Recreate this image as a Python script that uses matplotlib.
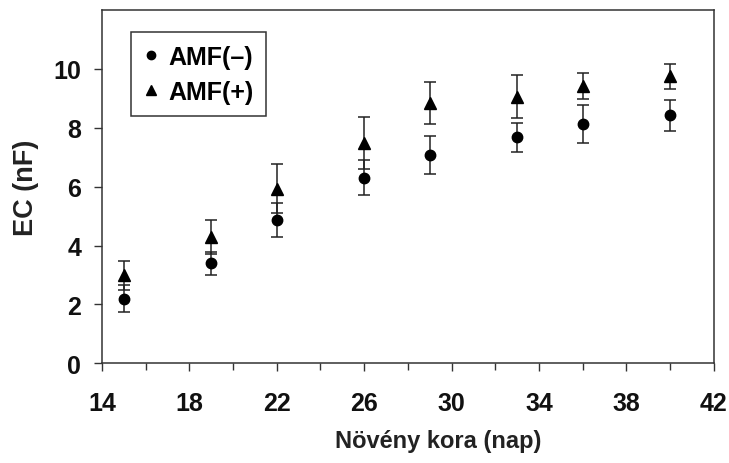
import matplotlib
matplotlib.use("Agg")
import matplotlib.pyplot as plt
from matplotlib.lines import Line2D
import numpy as np

# Növény kora (nap)
days = [15, 19, 22, 26, 29, 33, 36, 40]

# EC (nF) - AMF(-)
ec_minus = [2.20, 3.39, 4.86, 6.30, 7.07, 7.68, 8.12, 8.43]
err_minus = [0.45, 0.40, 0.57, 0.59, 0.65, 0.50, 0.64, 0.53]

# EC (nF) - AMF(+)
ec_plus = [2.99, 4.29, 5.93, 7.49, 8.85, 9.06, 9.43, 9.75]
err_plus = [0.50, 0.59, 0.84, 0.88, 0.71, 0.74, 0.45, 0.43]

x_ticks = [14, 18, 22, 26, 30, 34, 38, 42]
y_ticks = [0, 2, 4, 6, 8, 10]
labels = ['AMF(\u2013)', 'AMF(+)']

plt.rcParams['font.family'] = ['Liberation Sans', 'DejaVu Sans']

fig = plt.figure(figsize=(7.29, 4.64), dpi=100)
ax = fig.add_axes([0.140, 0.215, 0.839, 0.761])

ax.errorbar(days, ec_minus, yerr=err_minus, fmt='o', color='black',
            markersize=7.5, ecolor='#222222', elinewidth=1.1, capsize=4,
            capthick=1.1)
ax.errorbar(days, ec_plus, yerr=err_plus, fmt='^', color='black',
            markersize=8.5, ecolor='#222222', elinewidth=1.1, capsize=4,
            capthick=1.1)

ax.set_xlim(14, 42)
ax.set_ylim(0, 12)
ax.set_xticks(x_ticks)
ax.set_xticks(np.arange(14, 43, 2), minor=True)
ax.set_yticks(y_ticks)

for s in ax.spines.values():
    s.set_linewidth(1.1)
    s.set_color('#333333')

ax.tick_params(axis='both', which='both', direction='out', top=False, right=False,
               width=1.0, color='#333333')
ax.tick_params(axis='x', which='major', length=6, pad=14)
ax.tick_params(axis='x', which='minor', length=5)
ax.tick_params(axis='y', which='major', length=6, pad=9)

for lab in ax.get_xticklabels():
    lab.set_fontsize(18)
    lab.set_fontweight('bold')
    lab.set_color('#111111')
for lab in ax.get_yticklabels():
    lab.set_fontsize(18)
    lab.set_fontweight('bold')
    lab.set_color('#111111')

ax.set_xlabel('Növény kora (nap)', fontsize=17, fontweight='bold', labelpad=10,
              color='#222222', x=0.55)
ax.set_ylabel('EC (nF)', fontsize=19.5, fontweight='bold', labelpad=10,
              color='#222222')

handles = [Line2D([], [], linestyle='none', marker='o', color='black', markersize=6),
           Line2D([], [], linestyle='none', marker='^', color='black', markersize=7)]
leg = ax.legend(handles, labels, loc='upper left', bbox_to_anchor=(0.047, 0.938),
                frameon=True, fancybox=False, edgecolor='#333333', framealpha=1,
                prop={'weight': 'bold', 'size': 18}, handlelength=0.6,
                handletextpad=0.4, labelspacing=0.45, borderpad=0.5,
                borderaxespad=0)
leg.get_frame().set_linewidth(1.1)

fig.savefig('out.png', dpi=100)
